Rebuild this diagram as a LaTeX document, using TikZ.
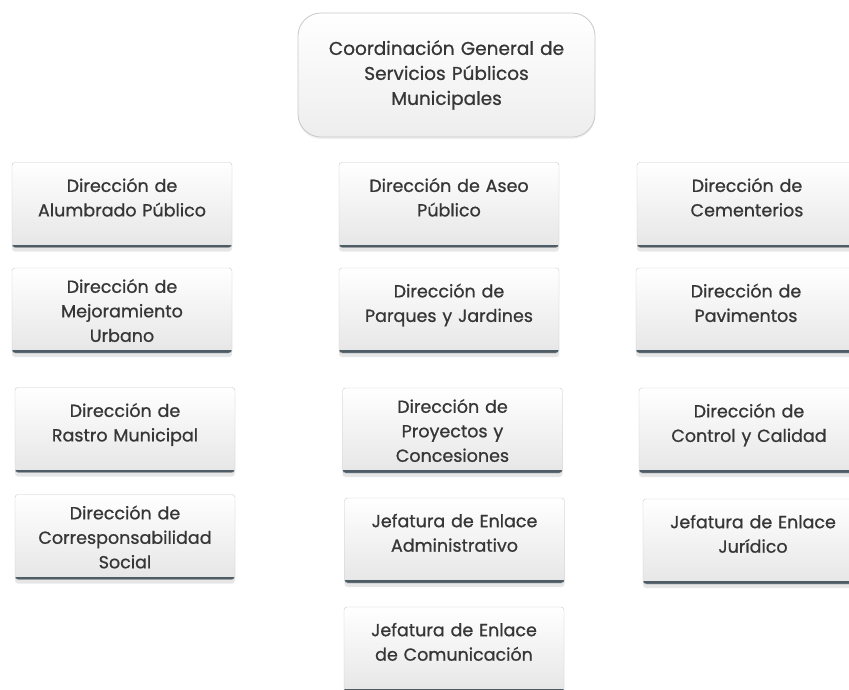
\documentclass[tikz,border=0pt]{standalone}
\usepackage{fontspec}
\setmainfont{Poppins}[FakeBold=0.8]
\usepackage{xcolor}
\usepackage{tikz}
\usetikzlibrary{shadows}
\definecolor{boxtext}{HTML}{363636}
\definecolor{boxline}{HTML}{C9C9C9}
\definecolor{boxbase}{HTML}{4E5C66}
\definecolor{boxlow}{HTML}{E6E6E6}
\tikzset{
  head/.style={rectangle, rounded corners=23pt, draw=boxline, thick,
               top color=white, bottom color=boxlow!70,
               minimum width=297pt, minimum height=124pt,
               text width=280pt, align=center, text=boxtext,
               font=\fontsize{18.5}{25}\selectfont,
               drop shadow={shadow xshift=0pt, shadow yshift=-2pt,
                            opacity=0.12}},
  unit/.style={rectangle, rounded corners=3pt, draw=boxline,
               top color=white, bottom color=boxlow,
               minimum width=220pt, minimum height=85pt,
               text width=210pt, align=center, text=boxtext,
               font=\fontsize{17.5}{24.5}\selectfont,
               path picture={\draw[boxbase, line width=6pt]
                 (path picture bounding box.south west) --
                 (path picture bounding box.south east);},
               drop shadow={shadow xshift=0pt, shadow yshift=-4pt,
                            opacity=0.2}},
  % two-line texts sit a little above the middle
  twoline/.style={execute at end node={\\[-9pt]\mbox{}}},
}
\begin{document}
\begin{tikzpicture}[x=1pt, y=-1pt]
  \useasboundingbox (0,0) rectangle (849,689);
  \node[head] (CG) at (446.5,75) {Coordinación General de\\Servicios Públicos\\Municipales};
  % left column
  \node[unit, twoline] (AP) at (122,205)   {Dirección de\\Alumbrado Público};
  \node[unit] (MU) at (122,310.5) {Dirección de\\Mejoramiento\\Urbano};
  \node[unit, twoline] (RM) at (125,430)   {Dirección de\\Rastro Municipal};
  \node[unit] (CS) at (125,537)   {Dirección de\\Corresponsabilidad\\Social};
  % middle column
  \node[unit, twoline] (AS) at (449,205)   {Dirección de Aseo\\Público};
  \node[unit, twoline] (PJ) at (449,310.5) {Dirección de\\Parques y Jardines};
  \node[unit] (PC) at (452.5,430.5) {Dirección de\\Proyectos y\\Concesiones};
  \node[unit, twoline] (EA) at (454.5,540.5) {Jefatura de Enlace\\Administrativo};
  \node[unit, twoline] (EC) at (454,649.5) {Jefatura de Enlace\\de Comunicación};
  % right column
  \node[unit, twoline] (CE) at (747,205)   {Dirección de\\Cementerios};
  \node[unit, twoline] (PV) at (746,310.5) {Dirección de\\Pavimentos};
  \node[unit, twoline] (CC) at (749,430.5) {Dirección de\\Control y Calidad};
  \node[unit, twoline] (EJ) at (753,541.5) {Jefatura de Enlace\\Jurídico};
\end{tikzpicture}
\end{document}
